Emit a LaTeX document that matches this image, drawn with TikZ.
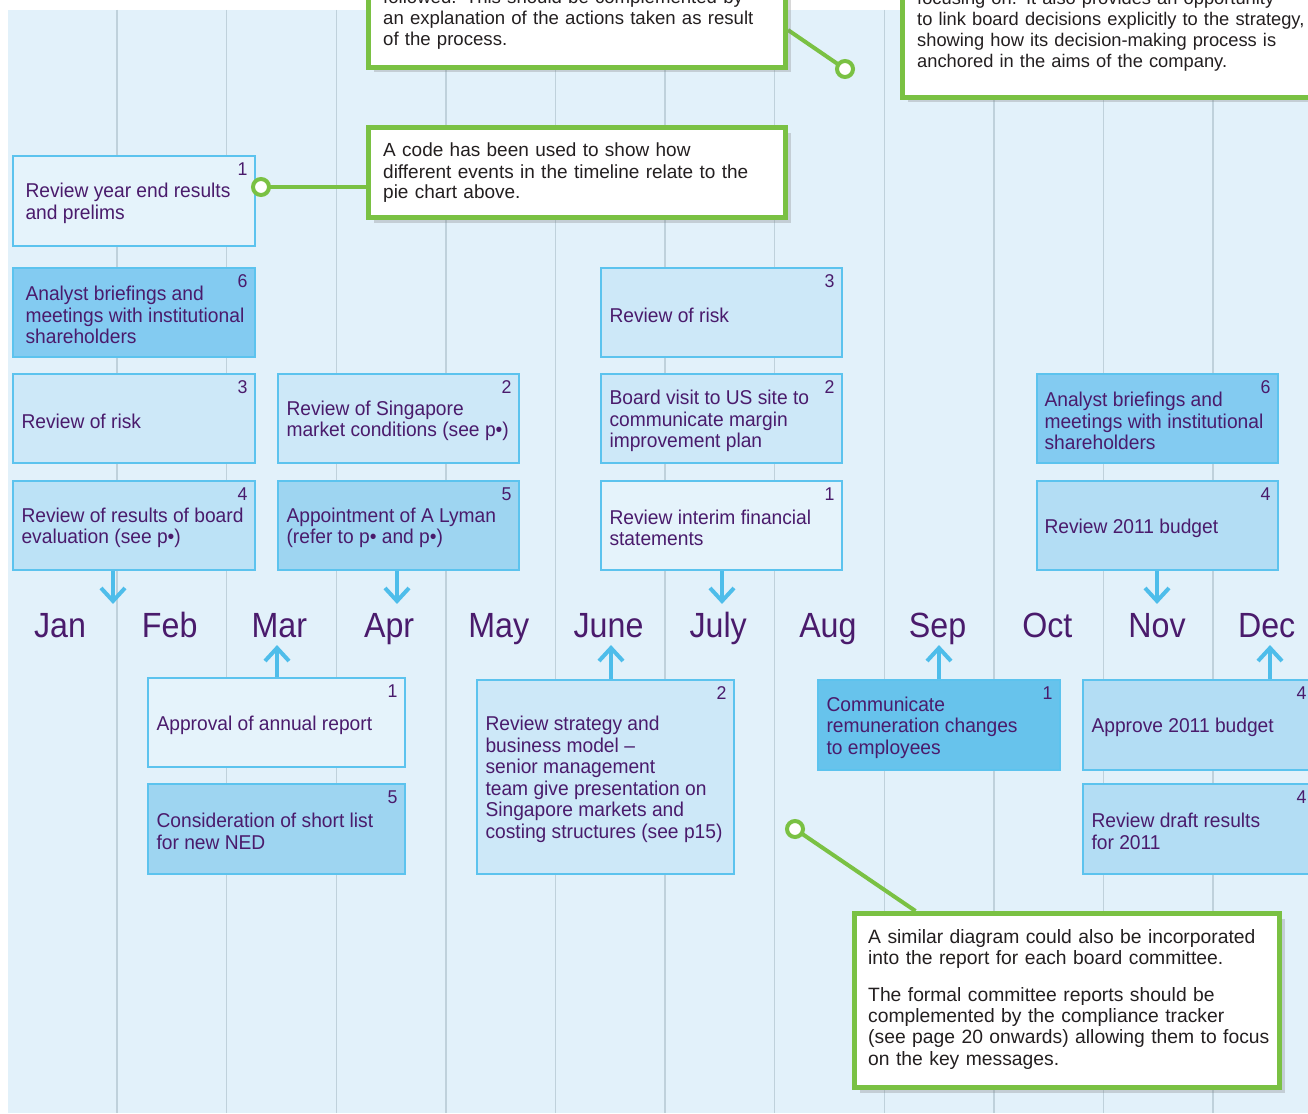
\documentclass[tikz,border=0pt]{standalone}
\usepackage{fontspec}
\setmainfont{Liberation Sans}
\newfontfamily\condfont[FakeStretch=0.96]{Liberation Sans}
\newfontfamily\monthfont[FakeStretch=0.92]{Liberation Sans}
\usetikzlibrary{shadows}
\definecolor{bgblue}{HTML}{E2F1FA}
\definecolor{gridc}{HTML}{BFD1DB}
\definecolor{boxline}{HTML}{5CC3EE}
\definecolor{fillA}{HTML}{E5F3FB}
\definecolor{fillB}{HTML}{CDE8F8}
\definecolor{fillD}{HTML}{BCE2F6}
\definecolor{fillDb}{HTML}{B3DDF4}
\definecolor{fillE}{HTML}{9ED5F1}
\definecolor{fillF}{HTML}{83CBF1}
\definecolor{fillG}{HTML}{67C3EC}
\definecolor{txtc}{HTML}{4A1B6C}
\definecolor{arrc}{HTML}{4EBDEA}
\definecolor{greenc}{HTML}{7AC143}
\definecolor{calltxt}{HTML}{231F20}
\pgfdeclarelayer{back}
\pgfdeclarelayer{mid}
\pgfsetlayers{back,mid,main}
% name, x1, y1, x2, y2, fill, number, inset, text
\newcommand\evbox[9]{%
  \node[evbox, fill=#6, minimum width=#4-#2, minimum height=#5-#3] (#1) at ({(#2+#4)/2},{(#3+#5)/2}) {};
  \node[evtext, anchor=west] (#1t) at ([xshift=#8pt,yshift=-2.5pt]#1.west) {#9};
  \node[evnum, anchor=north east] (#1n) at ([xshift=-8pt,yshift=-7pt]#1.north east) {#7};}
\begin{document}
\begin{tikzpicture}[x=1pt,y=-1pt,
  evbox/.style={draw=boxline, line width=1.3pt, inner sep=0pt},
  evtext/.style={inner sep=0pt, align=left, text=txtc, font=\condfont\fontsize{20}{21.5}\selectfont},
  evnum/.style={inner sep=0pt, text=txtc, font=\condfont\fontsize{18.5}{18.5}\selectfont},
  month/.style={inner sep=0pt, anchor=base, text=txtc, font=\monthfont\fontsize{35}{40}\selectfont},
  gridl/.style={draw=gridc, line width=1.4pt},
  arrs/.style={draw=arrc, line width=4pt, line join=miter},
  callbox/.style={draw=greenc, line width=5pt, fill=white, inner sep=0pt,
    drop shadow={shadow xshift=5pt, shadow yshift=-5pt, opacity=0.3}},
  calltext/.style={inner sep=0pt, anchor=base west, align=left, text=calltxt, font=\fontsize{19.3}{21.3}\selectfont},
  calltextb/.style={calltext, font=\fontsize{18.6}{21}\selectfont},
  knob/.style={circle, draw=greenc, line width=4pt, fill=white, minimum size=16pt, inner sep=0pt},
  conn/.style={draw=greenc, line width=4pt}]
\useasboundingbox (0,0) rectangle (1308,1113);
\clip (0,0) rectangle (1308,1113);
\begin{pgfonlayer}{back}
  \fill[white] (0,0) rectangle (1308,1113);
  \fill[bgblue] (8,10) rectangle (1308,1113);
  \foreach \k in {0,...,10} \draw[gridl] ({117+109.6*\k},10) -- ({117+109.6*\k},1113);
\end{pgfonlayer}

% months
\foreach \m [count=\i from 0] in {Jan,Feb,Mar,Apr,May,June,July,Aug,Sep,Oct,Nov,Dec}
  \node[month] (m\m) at ({60+109.7*\i},637) {\m};

% upper events
\evbox{a1}{13}{156}{255}{246}{fillA}{1}{13}{Review year end results\\and prelims}
\evbox{a6}{13}{268}{255}{357}{fillF}{6}{13}{Analyst briefings and\\meetings with institutional\\shareholders}
\evbox{a3}{13}{374}{255}{463}{fillB}{3}{9}{Review of risk}
\evbox{a4}{13}{481}{255}{570}{fillD}{4}{9}{Review of results of board\\evaluation (see p•)}
\evbox{b2}{278}{374}{519}{463}{fillB}{2}{9}{Review of Singapore\\market conditions (see p•)}
\evbox{b5}{278}{481}{519}{570}{fillE}{5}{9}{Appointment of A Lyman\\(refer to p• and p•)}
\evbox{c3}{601}{268}{842}{357}{fillB}{3}{9}{Review of risk}
\evbox{c2}{601}{374}{842}{463}{fillB}{2}{9}{Board visit to US site to\\communicate margin\\improvement plan}
\evbox{c1}{601}{481}{842}{570}{fillA}{1}{9}{Review interim financial\\statements}
\evbox{d6}{1037}{374}{1278}{463}{fillF}{6}{8}{Analyst briefings and\\meetings with institutional\\shareholders}
\evbox{d4}{1037}{481}{1278}{570}{fillDb}{4}{8}{Review 2011 budget}

% lower events
\evbox{e1}{148}{678}{405}{767}{fillA}{1}{9}{Approval of annual report}
\evbox{e5}{148}{784}{405}{874}{fillE}{5}{9}{Consideration of short list\\for new NED}
\evbox{f2}{477}{680}{734}{874}{fillB}{2}{9}{Review strategy and\\business model –\\senior management\\team give presentation on\\Singapore markets and\\costing structures (see p15)}
\evbox{g1}{818}{680}{1060}{770}{fillG}{1}{9}{Communicate\\remuneration changes\\to employees}
\evbox{h4}{1083}{680}{1314}{770}{fillDb}{4}{9}{Approve 2011 budget}
\evbox{h5}{1083}{784}{1314}{874}{fillDb}{4}{9}{Review draft results\\for 2011}

% arrows down
\coordinate (tJan) at (113,601);
\coordinate (tApr) at (397,601);
\coordinate (tJul) at (722,601);
\coordinate (tNov) at (1157,601);
\draw[arrs] (a4.south -| tJan) -- (tJan);
\draw[arrs] (tJan) ++(-12,-13) -- (tJan) -- ++(12,-13);
\draw[arrs] (b5.south -| tApr) -- (tApr);
\draw[arrs] (tApr) ++(-12,-13) -- (tApr) -- ++(12,-13);
\draw[arrs] (c1.south -| tJul) -- (tJul);
\draw[arrs] (tJul) ++(-12,-13) -- (tJul) -- ++(12,-13);
\draw[arrs] (d4.south -| tNov) -- (tNov);
\draw[arrs] (tNov) ++(-12,-13) -- (tNov) -- ++(12,-13);
% arrows up
\coordinate (tMar) at (277,648);
\coordinate (tJun) at (611,648);
\coordinate (tSep) at (939,648);
\coordinate (tDec) at (1270,648);
\draw[arrs] (e1.north -| tMar) -- (tMar);
\draw[arrs] (tMar) ++(-12,13) -- (tMar) -- ++(12,13);
\draw[arrs] (f2.north -| tJun) -- (tJun);
\draw[arrs] (tJun) ++(-12,13) -- (tJun) -- ++(12,13);
\draw[arrs] (g1.north -| tSep) -- (tSep);
\draw[arrs] (tSep) ++(-12,13) -- (tSep) -- ++(12,13);
\draw[arrs] (h4.north -| tDec) -- (tDec);
\draw[arrs] (tDec) ++(-12,13) -- (tDec) -- ++(12,13);

% callouts
\node[callbox, minimum width=417, minimum height=127.5] (cTop) at (577,3.75) {};
\node[calltextb, text width=410] (cTopT) at (383,4) {followed. This should be complemented by\\an explanation of the actions taken as result\\of the process.};
\node[callbox, minimum width=437.5, minimum height=157.5] (cRight) at (1121.25,18.75) {};
\node[calltextb, text width=420, font=\fontsize{18.3}{21}\selectfont] (cRightT) at (917,5) {focusing on. It also provides an opportunity\\to link board decisions explicitly to the strategy,\\showing how its decision-making process is\\anchored in the aims of the company.};
\node[callbox, minimum width=417, minimum height=90] (cCode) at (577,172.5) {};
\node[calltextb, text width=410, font=\fontsize{19}{21}\selectfont] (cCodeT) at (383,157) {A code has been used to show how\\different events in the timeline relate to the\\pie chart above.};
\node[callbox, minimum width=425, minimum height=174] (cBot) at (1067,1000.5) {};
\node[calltext, text width=415] (cBotT) at (868,943) {A similar diagram could also be incorporated\\into the report for each board committee.\\[15.5pt]The formal committee reports should be\\complemented by the compliance tracker\\(see page 20 onwards) allowing them to focus\\on the key messages.};

% knobs and connectors
\node[knob] (k1) at (261,187) {};
\node[knob] (k2) at (845,69) {};
\node[knob] (k3) at (795,829) {};
\begin{pgfonlayer}{mid}
  \draw[conn] (cCode.west |- k1) -- (k1.center);
  \path (cTop.east) ++(0,26.25) coordinate (s2);
  \draw[conn] (s2) -- (k2.center);
  \path (cBot.north west) ++(63.5,0) coordinate (s3);
  \draw[conn] (s3) -- (k3.center);
\end{pgfonlayer}
\end{tikzpicture}
\end{document}
